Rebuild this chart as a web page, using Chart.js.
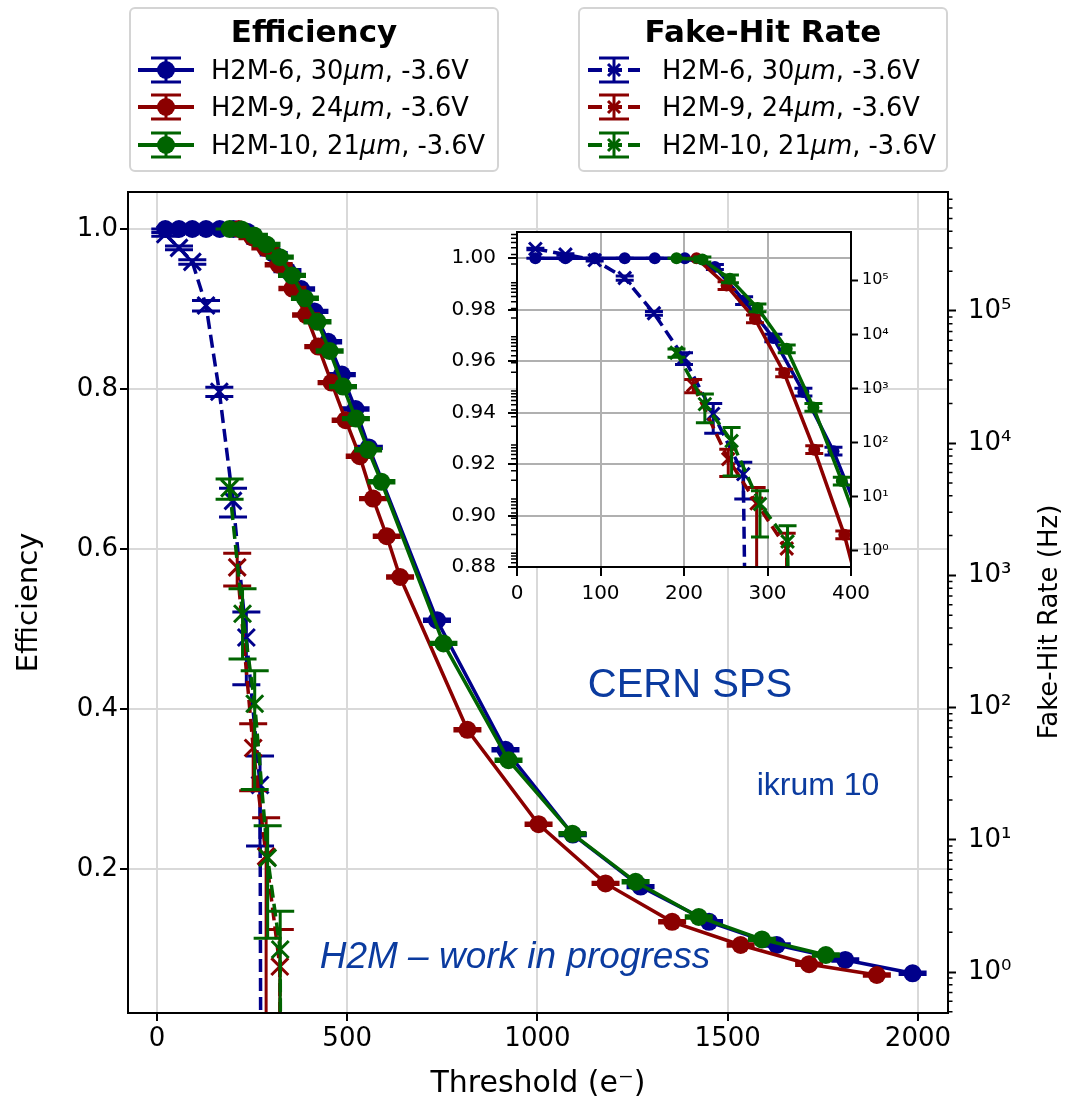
<!DOCTYPE html>
<html lang="en">
<head>
  <meta charset="UTF-8" />
  <title>H2M efficiency and fake-hit rate vs threshold</title>
  <script src="https://cdn.jsdelivr.net/npm/chart.js"></script>
  <style>
    body {
      margin: 0;
      padding: 0;
      background: #fff;
      font-family: 'DejaVu Sans', sans-serif;
      color: #000;
    }

    .figure {
      position: relative;
      width: 1068px;
      height: 1104px;
    }

    #mainChart { position: absolute; left: 0; top: 0; }
    #insetChart { position: absolute; left: 440px; top: 202px; }

    .legend {
      position: absolute;
      box-sizing: border-box;
      border: 2px solid #d4d4d4;
      border-radius: 6px;
      background: #fff;
    }

    .legend .title {
      position: absolute;
      left: 0;
      right: 0;
      top: 5px;
      text-align: center;
      font-weight: bold;
      font-size: 31px;
      line-height: 34px;
    }

    .legend .row {
      position: absolute;
      font-size: 25.7px;
      line-height: 30px;
      white-space: nowrap;
    }

    .legend svg { position: absolute; }

    .note {
      position: absolute;
      color: #0b3b9f;
      font-family: 'Liberation Sans', Arial, sans-serif;
      white-space: nowrap;
      transform: translate(-50%, -50%);
      line-height: 1;
    }
  </style>
</head>
<body>
  <div class="figure">
    <canvas id="mainChart" width="1068" height="1104"></canvas>
    <canvas id="insetChart" width="470" height="412"></canvas>

    <div class="legend" id="legendEff" style="left:129px; top:7px; width:370px; height:165px;">
      <div class="title">Efficiency</div>
    </div>
    <div class="legend" id="legendFhr" style="left:578px; top:7px; width:370px; height:165px;">
      <div class="title">Fake-Hit Rate</div>
    </div>

    <div class="note" style="left:690px; top:683px; font-size:40px;">CERN SPS</div>
    <div class="note" style="left:818px; top:784px; font-size:32px;">ikrum 10</div>
    <div class="note" style="left:515px; top:955px; font-size:37px; font-style:italic;">H2M – work in progress</div>
  </div>

  <script>
    // sensors
    const sensors = ["H2M-6", "H2M-9", "H2M-10"];
    const pitches = ["30", "24", "21"];
    const bias = "-3.6V";
    const colors = ["#00008b", "#8b0000", "#006400"];

    // efficiency vs threshold (e-)
    const effThrH2M6 = [22, 58, 93, 129, 165, 201, 237, 272, 307, 343, 379, 414, 450, 486, 522, 557, 736, 916, 1093, 1271, 1451, 1629, 1809, 1986];
    const effH2M6 = [1, 1, 1, 1, 1, 1, 0.9966, 0.9835, 0.969, 0.948, 0.925, 0.897, 0.859, 0.818, 0.775, 0.727, 0.511, 0.349, 0.243, 0.178, 0.134, 0.105, 0.0863, 0.0696];
    const effErrH2M6 = [0, 0, 0, 0, 0, 0, 0.001, 0.0015, 0.0015, 0.0015, 0.0015, 0.0015, 0.0015, 0.0015, 0.0015, 0.0015, 0.0015, 0.0015, 0.0015, 0.0015, 0.0015, 0.0015, 0.0015, 0.0015];

    const effThrH2M9 = [215, 251, 285, 320, 356, 392, 424, 459, 496, 533, 568, 604, 639, 816, 1003, 1179, 1354, 1534, 1714, 1892];
    const effH2M9 = [1.0, 0.9894, 0.9764, 0.9554, 0.9256, 0.8925, 0.853, 0.808, 0.761, 0.716, 0.663, 0.616, 0.565, 0.374, 0.256, 0.182, 0.134, 0.105, 0.081, 0.0675];
    const effErrH2M9 = [0, 0.0015, 0.0015, 0.0015, 0.0015, 0.0015, 0.0015, 0.0015, 0.0015, 0.0015, 0.0015, 0.0015, 0.0015, 0.0015, 0.0015, 0.0015, 0.0015, 0.0015, 0.0015, 0.0015];

    const effThrH2M10 = [191, 222, 255, 288, 323, 355, 389, 422, 454, 489, 523, 555, 590, 753, 924, 1092, 1258, 1424, 1590, 1758];
    const effH2M10 = [1.0, 0.9995, 0.992, 0.9807, 0.9648, 0.942, 0.9134, 0.884, 0.8475, 0.803, 0.763, 0.724, 0.684, 0.482, 0.336, 0.244, 0.184, 0.140, 0.112, 0.0925];
    const effErrH2M10 = [0, 0.001, 0.0015, 0.0015, 0.0015, 0.0015, 0.0015, 0.0015, 0.0015, 0.0015, 0.0015, 0.0015, 0.0015, 0.0015, 0.0015, 0.0015, 0.0015, 0.0015, 0.0015, 0.0015];

    // fake-hit rate (Hz) vs threshold (e-); 0 = no fake hits left
    const fhrThrH2M6 = [22, 58, 93, 129, 164, 200, 235, 271, 307];
    const fhrH2M6 = [380000, 300000, 235000, 110000, 24500, 3660, 339, 26, 0];
    const fhrErrH2M6 = [12000, 10000, 9000, 10000, 2000, 900, 190, 17, 0];

    const fhrThrH2M9 = [211, 253, 287, 323, 358];
    const fhrH2M9 = [1150, 49.5, 7.5, 1.1, 0];
    const fhrErrH2M9 = [320, 26, 7.2, 1.0, 0];

    const fhrThrH2M10 = [191, 225, 257, 291, 324, 357];
    const fhrH2M10 = [4570, 513, 107, 7.3, 1.48, 0];
    const fhrErrH2M10 = [800, 280, 83, 5.5, 1.4, 0];

    // ticks
    const thresholdTicks = [0, 500, 1000, 1500, 2000];
    const effTicks = [0.2, 0.4, 0.6, 0.8, 1.0];
    const rateTicks = [1, 10, 100, 1000, 10000, 100000];
    const rateTickLabels = ["10⁰", "10¹", "10²", "10³", "10⁴", "10⁵"];
    const insetThresholdTicks = [0, 100, 200, 300, 400];
    const insetEffTicks = [0.88, 0.90, 0.92, 0.94, 0.96, 0.98, 1.00];

    const RATE_FLOOR = 1e-40; // stands in for 0 on the log axis

    Chart.defaults.font.family = "'DejaVu Sans', sans-serif";
    Chart.defaults.color = "#000";

    const effSeries = [
      [effThrH2M6, effH2M6, effErrH2M6],
      [effThrH2M9, effH2M9, effErrH2M9],
      [effThrH2M10, effH2M10, effErrH2M10]
    ];
    const fhrSeries = [
      [fhrThrH2M6, fhrH2M6, fhrErrH2M6],
      [fhrThrH2M9, fhrH2M9, fhrErrH2M9],
      [fhrThrH2M10, fhrH2M10, fhrErrH2M10]
    ];

    function buildDatasets(dot, cross, lineW, dash) {
      const sets = [];
      effSeries.forEach(([thr, val, err], i) => {
        sets.push({
          label: "eff " + sensors[i],
          yAxisID: "y",
          data: thr.map((t, k) => ({ x: t, y: val[k] })),
          err: err,
          borderColor: colors[i],
          backgroundColor: colors[i],
          borderWidth: lineW,
          pointStyle: "circle",
          pointRadius: dot,
          pointBorderWidth: 0,
          pointBackgroundColor: colors[i],
          tension: 0,
          clip: 0,
          order: 6 - i
        });
      });
      fhrSeries.forEach(([thr, val, err], i) => {
        sets.push({
          label: "fhr " + sensors[i],
          yAxisID: "y2",
          data: thr.map((t, k) => ({ x: t, y: val[k] > 0 ? val[k] : RATE_FLOOR })),
          err: err,
          borderColor: colors[i],
          backgroundColor: colors[i],
          borderWidth: lineW,
          borderDash: dash,
          pointStyle: "crossRot",
          pointRadius: cross,
          pointBorderWidth: 3,
          pointBorderColor: colors[i],
          tension: 0,
          clip: 0,
          order: 3 - i
        });
      });
      return sets;
    }

    // vertical error bars with caps, drawn under each series
    const errorBars = {
      id: "errorBars",
      beforeDatasetDraw(chart, args, opts) {
        const ds = chart.data.datasets[args.index];
        if (!ds.err) return;
        const { ctx, chartArea } = chart;
        const xs = chart.scales.x;
        const ys = chart.scales[ds.yAxisID];
        const cap = opts.cap;
        ctx.save();
        ctx.beginPath();
        ctx.rect(chartArea.left, chartArea.top, chartArea.right - chartArea.left, chartArea.bottom - chartArea.top);
        ctx.clip();
        ctx.strokeStyle = ds.borderColor;
        ctx.lineWidth = opts.width;
        ds.data.forEach((p, i) => {
          if (p.y <= RATE_FLOOR) return;
          const e = ds.err[i];
          const px = xs.getPixelForValue(p.x);
          const hi = ys.getPixelForValue(p.y + e);
          const lo = p.y - e > 0 ? ys.getPixelForValue(p.y - e) : chartArea.bottom + 60;
          ctx.beginPath();
          ctx.moveTo(px, hi);
          ctx.lineTo(px, lo);
          ctx.moveTo(px - cap, hi);
          ctx.lineTo(px + cap, hi);
          ctx.moveTo(px - cap, lo);
          ctx.lineTo(px + cap, lo);
          ctx.stroke();
        });
        ctx.restore();
      }
    };

    const plotFrame = {
      id: "plotFrame",
      beforeDraw(chart, args, opts) {
        if (!opts.fill) return;
        const { ctx, chartArea: a } = chart;
        ctx.save();
        ctx.fillStyle = opts.fill;
        ctx.fillRect(a.left, a.top, a.right - a.left, a.bottom - a.top);
        ctx.restore();
      },
      afterDraw(chart) {
        const { ctx, chartArea: a } = chart;
        ctx.save();
        ctx.strokeStyle = "#000";
        ctx.lineWidth = 2;
        ctx.strokeRect(a.left, a.top, a.right - a.left, a.bottom - a.top);
        ctx.restore();
      }
    };

    // minor ticks of the log rate axis
    const logMinorTicks = {
      id: "logMinorTicks",
      afterDraw(chart, args, opts) {
        const s = chart.scales.y2;
        const { ctx, chartArea: a } = chart;
        const x0 = opts.side === "left" ? a.left : a.right;
        const dir = opts.side === "left" ? -1 : 1;
        ctx.save();
        ctx.strokeStyle = "#000";
        ctx.lineWidth = 1.5;
        ctx.beginPath();
        for (let d = Math.floor(Math.log10(s.min)); d <= Math.ceil(Math.log10(s.max)); d++) {
          for (let k = 2; k <= 9; k++) {
            const v = k * Math.pow(10, d);
            if (v < s.min || v > s.max) continue;
            const y = s.getPixelForValue(v);
            ctx.moveTo(x0, y);
            ctx.lineTo(x0 + dir * opts.length, y);
          }
        }
        ctx.stroke();
        ctx.restore();
      }
    };

    // right axis title, read bottom to top
    const rightTitle = {
      id: "rightTitle",
      afterDraw(chart, args, opts) {
        if (!opts.text) return;
        const { ctx } = chart;
        ctx.save();
        ctx.translate(opts.x, opts.y);
        ctx.rotate(-Math.PI / 2);
        ctx.font = opts.size + "px 'DejaVu Sans', sans-serif";
        ctx.fillStyle = "#000";
        ctx.textAlign = "center";
        ctx.textBaseline = "middle";
        ctx.fillText(opts.text, 0, 0);
        ctx.restore();
      }
    };

    const fixTicks = (list) => (scale) => { scale.ticks = list.map(v => ({ value: v })); };
    const rateLabel = (v) => rateTickLabels[rateTicks.indexOf(v)];

    new Chart(document.getElementById("mainChart"), {
      type: "line",
      data: { datasets: buildDatasets(9, 12, 3.5, [13, 6]) },
      options: {
        responsive: false,
        animation: false,
        events: [],
        layout: { padding: { top: 192, left: 0, right: 0, bottom: 0 } },
        plugins: {
          legend: { display: false },
          tooltip: { enabled: false },
          errorBars: { cap: 14, width: 3 },
          plotFrame: {},
          logMinorTicks: { side: "right", length: 4.5 },
          rightTitle: { text: "Fake-Hit Rate (Hz)", x: 1050, y: 622, size: 26 }
        },
        scales: {
          x: {
            type: "linear",
            min: -76,
            max: 2079,
            afterBuildTicks: fixTicks(thresholdTicks),
            afterFit: (s) => { s.height = 91; },
            ticks: { font: { size: 26 }, padding: 3, maxRotation: 0, autoSkip: false, callback: (v) => String(v) },
            grid: { color: "#d9d9d9", lineWidth: 2, tickColor: "#000", tickLength: 8, tickWidth: 2 },
            border: { color: "#000", width: 2 },
            title: { display: true, text: "Threshold (e⁻)", font: { size: 30 }, padding: { top: 0, bottom: 2 } }
          },
          y: {
            type: "linear",
            position: "left",
            min: 0.02,
            max: 1.04625,
            afterBuildTicks: fixTicks(effTicks),
            afterFit: (s) => { s.width = 128; },
            ticks: { font: { size: 26 }, padding: 2, callback: (v) => v.toFixed(1) },
            grid: { color: "#d9d9d9", lineWidth: 2, tickColor: "#000", tickLength: 8, tickWidth: 2 },
            border: { color: "#000", width: 2 },
            title: { display: true, text: "Efficiency", font: { size: 29 }, padding: { top: 12, bottom: 0 } }
          },
          y2: {
            type: "logarithmic",
            position: "right",
            min: 0.49,
            max: 7.94e5,
            afterBuildTicks: fixTicks(rateTicks),
            afterFit: (s) => { s.width = 120; },
            ticks: { font: { size: 26 }, padding: 12, callback: rateLabel },
            grid: { drawOnChartArea: false, tickColor: "#000", tickLength: 8, tickWidth: 2 },
            border: { color: "#000", width: 2 }
          }
        }
      },
      plugins: [errorBars, plotFrame, logMinorTicks, rightTitle]
    });

    new Chart(document.getElementById("insetChart"), {
      type: "line",
      data: { datasets: buildDatasets(6, 9, 3.5, [12, 6]) },
      options: {
        responsive: false,
        animation: false,
        events: [],
        layout: { padding: { top: 30, left: 0, right: 0, bottom: 0 } },
        plugins: {
          legend: { display: false },
          tooltip: { enabled: false },
          errorBars: { cap: 9, width: 3 },
          plotFrame: { fill: "#fff" },
          logMinorTicks: { side: "left", length: 6 },
          rightTitle: {}
        },
        scales: {
          x: {
            type: "linear",
            min: 0,
            max: 400,
            afterBuildTicks: fixTicks(insetThresholdTicks),
            afterFit: (s) => { s.height = 47; },
            ticks: { font: { size: 20 }, padding: 6, maxRotation: 0, autoSkip: false, callback: (v) => String(v) },
            grid: { color: "#b0b0b0", lineWidth: 2, tickColor: "#000", tickLength: 9, tickWidth: 2 },
            border: { color: "#000", width: 2 }
          },
          y: {
            type: "linear",
            position: "left",
            min: 0.88,
            max: 1.0102,
            afterBuildTicks: fixTicks(insetEffTicks),
            afterFit: (s) => { s.width = 77; },
            ticks: { font: { size: 20 }, padding: 12, callback: (v) => v.toFixed(2) },
            grid: { color: "#b0b0b0", lineWidth: 2, tickColor: "#000", tickLength: 9, tickWidth: 2 },
            border: { color: "#000", width: 2 }
          },
          y2: {
            type: "logarithmic",
            position: "right",
            min: 0.5,
            max: 7.8e5,
            afterBuildTicks: fixTicks(rateTicks),
            afterFit: (s) => { s.width = 59; },
            ticks: { font: { size: 16 }, padding: 4, callback: rateLabel },
            grid: { drawOnChartArea: false, tickColor: "#000", tickLength: 7, tickWidth: 2 },
            border: { color: "#000", width: 2 }
          }
        }
      },
      plugins: [errorBars, plotFrame, logMinorTicks]
    });

    // legend boxes
    const rowTops = [46, 83, 121];
    function effHandle(color) {
      return `<svg width="62" height="36" style="left:5px;top:-3px">
        <line x1="2" y1="18" x2="58" y2="18" stroke="${color}" stroke-width="4"/>
        <line x1="30" y1="6" x2="30" y2="30" stroke="${color}" stroke-width="3"/>
        <line x1="15" y1="6" x2="45" y2="6" stroke="${color}" stroke-width="3"/>
        <line x1="15" y1="30" x2="45" y2="30" stroke="${color}" stroke-width="3"/>
        <circle cx="30" cy="18" r="9" fill="${color}"/></svg>`;
    }
    function fhrHandle(color) {
      return `<svg width="62" height="36" style="left:6px;top:-3px">
        <line x1="2" y1="18" x2="54" y2="18" stroke="${color}" stroke-width="4" stroke-dasharray="14 6"/>
        <line x1="28" y1="6" x2="28" y2="30" stroke="${color}" stroke-width="3"/>
        <line x1="13" y1="6" x2="43" y2="6" stroke="${color}" stroke-width="3"/>
        <line x1="13" y1="30" x2="43" y2="30" stroke="${color}" stroke-width="3"/>
        <line x1="22" y1="12" x2="34" y2="24" stroke="${color}" stroke-width="3"/>
        <line x1="22" y1="24" x2="34" y2="12" stroke="${color}" stroke-width="3"/></svg>`;
    }
    const effBox = document.getElementById("legendEff");
    const fhrBox = document.getElementById("legendFhr");
    sensors.forEach((name, i) => {
      const text = `${name}, ${pitches[i]}<i>μm</i>, ${bias}`;
      const a = document.createElement("div");
      a.className = "row";
      a.style.left = "0px";
      a.style.top = rowTops[i] + "px";
      a.innerHTML = effHandle(colors[i]) + `<span style="position:absolute;left:80px">${text}</span>`;
      effBox.appendChild(a);
      const b = document.createElement("div");
      b.className = "row";
      b.style.left = "0px";
      b.style.top = rowTops[i] + "px";
      b.innerHTML = fhrHandle(colors[i]) + `<span style="position:absolute;left:82px">${text}</span>`;
      fhrBox.appendChild(b);
    });
  </script>
</body>
</html>
